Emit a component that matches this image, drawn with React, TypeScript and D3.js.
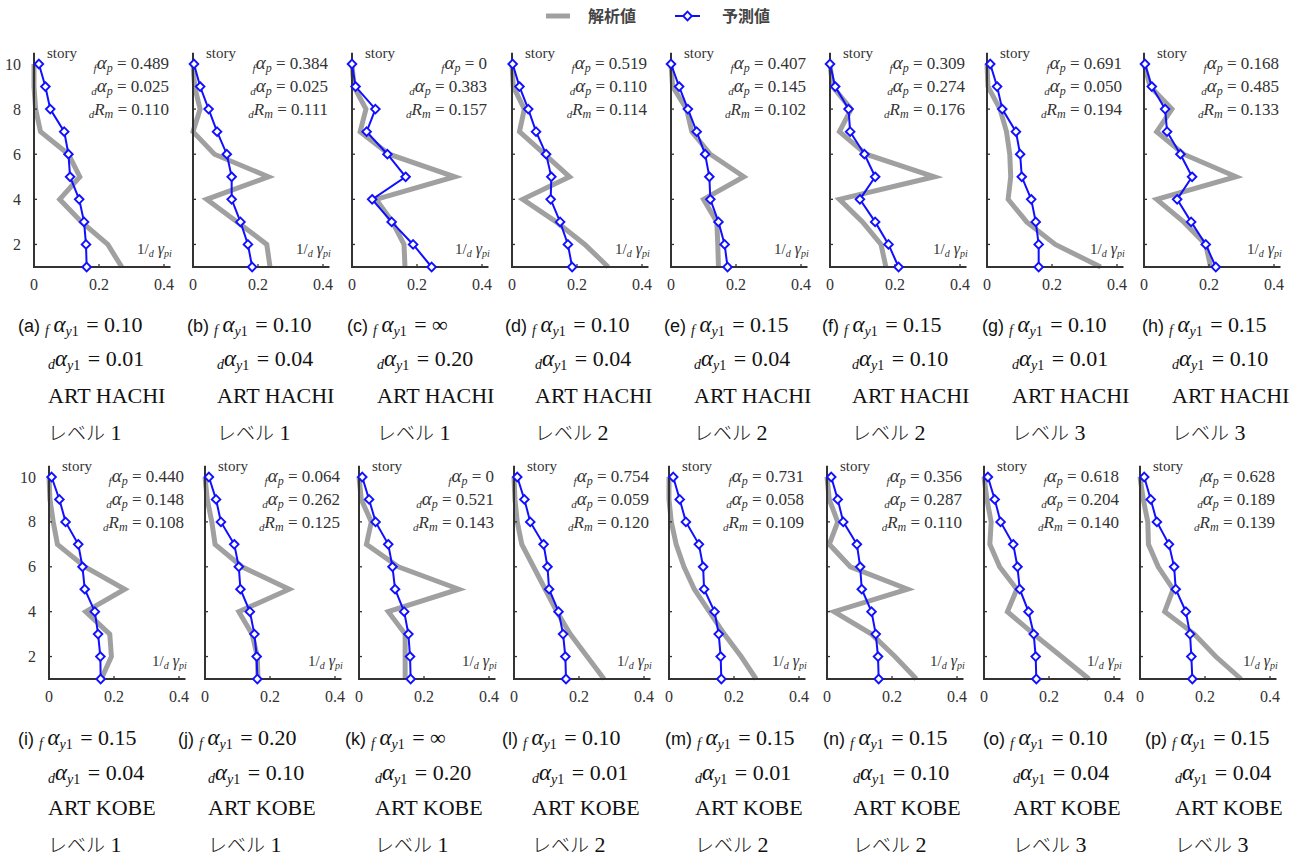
import React from "react";
import * as d3 from "d3";

// ---------- data ----------
const panelIds = ["a","b","c","d","e","f","g","h","i","j","k","l","m","n","o","p"];
const stories = [10, 9, 8, 7, 6, 5, 4, 3, 2, 1];
const yTicks = [2, 4, 6, 8, 10];
const xTicks = [0, 0.2, 0.4];

// predicted (blue) 1/dγpi, story 10 -> 1
const predicted = [
  [0.015,0.035,0.050,0.093,0.106,0.111,0.139,0.154,0.160,0.162],
  [0.003,0.022,0.048,0.074,0.104,0.119,0.119,0.146,0.169,0.182],
  [0.000,0.011,0.072,0.045,0.109,0.165,0.062,0.122,0.188,0.245],
  [0.002,0.023,0.050,0.074,0.105,0.121,0.119,0.148,0.172,0.185],
  [0.000,0.025,0.052,0.079,0.105,0.118,0.121,0.146,0.165,0.174],
  [0.000,0.016,0.057,0.062,0.106,0.139,0.092,0.139,0.180,0.211],
  [0.010,0.031,0.047,0.089,0.102,0.107,0.136,0.150,0.159,0.159],
  [0.003,0.024,0.065,0.071,0.112,0.148,0.102,0.145,0.190,0.221],
  [0.008,0.032,0.051,0.090,0.103,0.110,0.141,0.151,0.158,0.159],
  [0.012,0.034,0.049,0.090,0.104,0.109,0.138,0.152,0.159,0.161],
  [0.010,0.031,0.051,0.090,0.103,0.111,0.139,0.152,0.157,0.159],
  [0.010,0.032,0.050,0.091,0.103,0.108,0.137,0.151,0.158,0.160],
  [0.013,0.033,0.052,0.092,0.105,0.108,0.140,0.153,0.159,0.161],
  [0.013,0.033,0.050,0.092,0.102,0.107,0.137,0.150,0.157,0.159],
  [0.012,0.033,0.051,0.090,0.103,0.110,0.137,0.153,0.159,0.161],
  [0.013,0.033,0.052,0.089,0.105,0.110,0.141,0.154,0.158,0.161],
];

// analytical (gray) 1/dγpi, story 10 -> 1
const analytical = [
  [0.000,0.000,0.005,0.020,0.106,0.141,0.079,0.146,0.227,0.270],
  [0.000,0.005,0.022,0.000,0.066,0.232,0.042,0.136,0.227,0.237],
  [0.000,0.006,0.043,0.025,0.114,0.316,0.074,0.124,0.160,0.163],
  [0.000,0.004,0.038,0.023,0.100,0.177,0.033,0.136,0.224,0.296],
  [0.000,0.005,0.048,0.064,0.121,0.224,0.100,0.141,0.144,0.146],
  [0.000,0.008,0.065,0.029,0.111,0.321,0.029,0.100,0.157,0.172],
  [0.000,0.003,0.040,0.060,0.070,0.073,0.065,0.122,0.210,0.350],
  [0.000,0.019,0.086,0.039,0.122,0.283,0.039,0.122,0.190,0.205],
  [0.000,0.003,0.013,0.026,0.110,0.233,0.113,0.187,0.192,0.161],
  [0.000,0.007,0.021,0.031,0.114,0.259,0.104,0.145,0.161,0.163],
  [0.000,0.007,0.038,0.023,0.121,0.307,0.090,0.142,0.142,0.142],
  [0.000,0.003,0.010,0.024,0.060,0.096,0.132,0.173,0.225,0.277],
  [0.000,0.000,0.007,0.022,0.046,0.078,0.124,0.170,0.222,0.268],
  [0.000,0.007,0.033,0.007,0.072,0.248,0.022,0.137,0.209,0.275],
  [0.000,0.009,0.022,0.018,0.048,0.101,0.072,0.153,0.238,0.323],
  [0.000,0.010,0.024,0.026,0.056,0.102,0.076,0.167,0.233,0.311],
];

const fAlphaP = ["0.489","0.384","0","0.519","0.407","0.309","0.691","0.168","0.440","0.064","0","0.754","0.731","0.356","0.618","0.628"];
const dAlphaP = ["0.025","0.025","0.383","0.110","0.145","0.274","0.050","0.485","0.148","0.262","0.521","0.059","0.058","0.287","0.204","0.189"];
const dRm = ["0.110","0.111","0.157","0.114","0.102","0.176","0.194","0.133","0.108","0.125","0.143","0.120","0.109","0.110","0.140","0.139"];
const fAlphaY1 = ["0.10","0.10","∞","0.10","0.15","0.15","0.10","0.15","0.15","0.20","∞","0.10","0.15","0.15","0.10","0.15"];
const dAlphaY1 = ["0.01","0.04","0.20","0.04","0.04","0.10","0.01","0.10","0.04","0.10","0.20","0.01","0.01","0.10","0.04","0.04"];
const waves = ["ART HACHI","ART HACHI","ART HACHI","ART HACHI","ART HACHI","ART HACHI","ART HACHI","ART HACHI","ART KOBE","ART KOBE","ART KOBE","ART KOBE","ART KOBE","ART KOBE","ART KOBE","ART KOBE"];
const levels = ["1","1","1","2","2","2","3","3","1","1","1","2","2","2","3","3"];
const legendLabels = ["解析値", "予測値"];

// ---------- layout ----------
const W = 1308, H = 861;
const panelX0 = [34,193,352,512,671,830,987,1144, 49,205,359,514,669,827,984,1140];
const rowY = [{ top: 64, bottom: 267 }, { top: 477, bottom: 679 }];
const capX = [18,187,347,505,664,822,982,1142, 18,178,345,502,665,823,983,1145];
const capY = [[332, 366, 403, 440], [745, 780, 815, 852]];
const PX_PER_UNIT = 325;

const SERIF = "Liberation Serif, Times New Roman, DejaVu Serif, serif";
const SANS = "Liberation Sans, Arial, sans-serif";
const CJK = "Noto Sans CJK JP, sans-serif";
const BLUE = "#1010ff";
const GRAY = "#a0a0a0";
const AX = "#333333";
const TXT = "#333333";

const serif = { fontFamily: SERIF };

function Diamond({ x, y }: { x: number; y: number }) {
  const r = 4.3;
  return (
    <path
      d={`M${x},${y - r}L${x + r},${y}L${x},${y + r}L${x - r},${y}Z`}
      fill="#ffffff"
      stroke={BLUE}
      strokeWidth={1.9}
    />
  );
}

function Panel({ i }: { i: number }) {
  const row = i < 8 ? 0 : 1;
  const x0 = panelX0[i];
  const { top, bottom } = rowY[row];
  const x = d3.scaleLinear().domain([0, 0.4]).range([x0, x0 + 0.4 * PX_PER_UNIT]);
  const y = d3.scaleLinear().domain([1, 10]).range([bottom, top]);
  const line = d3.line<number>().x((v) => x(v)).y((_, k) => y(stories[k]));
  const grayPath = line(analytical[i]) || "";
  const bluePath = line(predicted[i]) || "";
  const axisTop = y(10.5);
  const axisRight = x(0.42);
  const annX = x0 + 135;
  const showYLabels = i === 0 || i === 8;
  return (
    <g style={serif}>
      <path d={grayPath} fill="none" stroke={GRAY} strokeWidth={5} strokeLinejoin="miter" />
      {/* axes */}
      <line x1={x0} y1={axisTop} x2={x0} y2={bottom} stroke={AX} strokeWidth={2} />
      <line x1={x0 - 1} y1={bottom} x2={axisRight} y2={bottom} stroke={AX} strokeWidth={2} />
      {yTicks.map((t) => (
        <line key={"yt" + t} x1={x0} x2={x0 + 3} y1={y(t)} y2={y(t)} stroke={AX} strokeWidth={1.3} />
      ))}
      {xTicks.slice(1).map((t) => (
        <line key={"xt" + t} x1={x(t)} x2={x(t)} y1={bottom} y2={bottom - 3} stroke={AX} strokeWidth={1.3} />
      ))}
      {showYLabels &&
        yTicks.map((t) => (
          <text key={"yl" + t} x={x0 - 13} y={y(t) + 5.5} textAnchor="end" style={serif} fontSize={16} fill={TXT}>
            {t}
          </text>
        ))}
      {xTicks.map((t) => (
        <text key={"xl" + t} x={x(t)} y={bottom + 23} textAnchor="middle" style={serif} fontSize={16} fill={TXT}>
          {t === 0 ? "0" : t.toFixed(1)}
        </text>
      ))}
      <text x={x0 + 13} y={top - 6} style={serif} fontSize={15} fill={TXT}>story</text>
      {/* annotations */}
      <text x={annX} y={top + 5} textAnchor="end" style={serif} fontSize={17} fill={TXT}>
        <tspan fontSize={11} fontStyle="italic" dy={3}>f</tspan>
        <tspan fontSize={19} fontStyle="italic" dy={-3}>α</tspan>
        <tspan fontSize={12} fontStyle="italic" dy={3}>p</tspan>
        <tspan dy={-3}>{" = " + fAlphaP[i]}</tspan>
      </text>
      <text x={annX} y={top + 28} textAnchor="end" style={serif} fontSize={17} fill={TXT}>
        <tspan fontSize={11} fontStyle="italic" dy={3}>d</tspan>
        <tspan fontSize={19} fontStyle="italic" dy={-3}>α</tspan>
        <tspan fontSize={12} fontStyle="italic" dy={3}>p</tspan>
        <tspan dy={-3}>{" = " + dAlphaP[i]}</tspan>
      </text>
      <text x={annX} y={top + 51} textAnchor="end" style={serif} fontSize={17} fill={TXT}>
        <tspan fontSize={11} fontStyle="italic" dy={3}>d</tspan>
        <tspan fontSize={17} fontStyle="italic" dy={-3}>R</tspan>
        <tspan fontSize={12} fontStyle="italic" dy={3}>m</tspan>
        <tspan dy={-3}>{" = " + dRm[i]}</tspan>
      </text>
      {/* x-axis quantity label */}
      <text x={x0 + 103} y={bottom - 13} style={serif} fontSize={15} fill={TXT}>
        <tspan>1/</tspan>
        <tspan fontSize={10} fontStyle="italic" dy={3}>d</tspan>
        <tspan fontSize={16} fontStyle="italic" dy={-3}> γ</tspan>
        <tspan fontSize={10} fontStyle="italic" dy={3}>pi</tspan>
      </text>
      <path d={bluePath} fill="none" stroke={BLUE} strokeWidth={2} />
      {predicted[i].map((v, k) => (
        <Diamond key={k} x={x(v)} y={y(stories[k])} />
      ))}
    </g>
  );
}

function Caption({ i }: { i: number }) {
  const row = i < 8 ? 0 : 1;
  const [y1, y2, y3, y4] = capY[row];
  const cx = capX[i];
  const cx2 = cx + 30;
  return (
    <g fill="#111" style={serif}>
      <text x={cx} y={y1} style={serif} fontSize={22}>
        <tspan style={{ fontFamily: SANS }} fontSize={18}>{"(" + panelIds[i] + ")"}</tspan>
        <tspan fontSize={14} fontStyle="italic" dx={5} dy={3}>{"f "}</tspan>
        <tspan fontSize={23} fontStyle="italic" dx={1} dy={-3}>α</tspan>
        <tspan fontSize={14} fontStyle="italic" dy={4}>y</tspan>
        <tspan fontSize={14}>1</tspan>
        <tspan dx={2} dy={-4}>{fAlphaY1[i] === "∞" ? " =  ∞" : " = " + fAlphaY1[i]}</tspan>
      </text>
      <text x={cx2} y={y2} style={serif} fontSize={22}>
        <tspan fontSize={14} fontStyle="italic" dy={3}>d</tspan>
        <tspan fontSize={23} fontStyle="italic" dy={-3}>α</tspan>
        <tspan fontSize={14} fontStyle="italic" dy={4}>y</tspan>
        <tspan fontSize={14}>1</tspan>
        <tspan dx={2} dy={-4}>{" = " + dAlphaY1[i]}</tspan>
      </text>
      <text x={cx2} y={y3} style={serif} fontSize={22}>{waves[i]}</text>
      <text x={cx2} y={y4} style={{ fontFamily: CJK }} fontWeight={300} fontSize={19}>
        レベル<tspan style={serif} fontSize={22}>{" " + levels[i]}</tspan>
      </text>
    </g>
  );
}

function Legend() {
  return (
    <g>
      <line x1={546} x2={570} y1={16} y2={16} stroke={GRAY} strokeWidth={5} />
      <text x={588} y={22} style={{ fontFamily: CJK }} fontWeight={700} fontSize={16} fill="#444">{legendLabels[0]}</text>
      <line x1={675} x2={700} y1={16} y2={16} stroke={BLUE} strokeWidth={2} />
      <Diamond x={687.5} y={16} />
      <text x={722} y={22} style={{ fontFamily: CJK }} fontWeight={700} fontSize={16} fill="#444">{legendLabels[1]}</text>
    </g>
  );
}

export default function App() {
  return (
    <svg width={W} height={H} style={{ position: "absolute", left: 0, top: 0, background: "#fff" }}>
      <rect width={W} height={H} fill="#fff" />
      <Legend />
      {panelIds.map((_, i) => (
        <Panel key={"p" + i} i={i} />
      ))}
      {panelIds.map((_, i) => (
        <Caption key={"c" + i} i={i} />
      ))}
    </svg>
  );
}
